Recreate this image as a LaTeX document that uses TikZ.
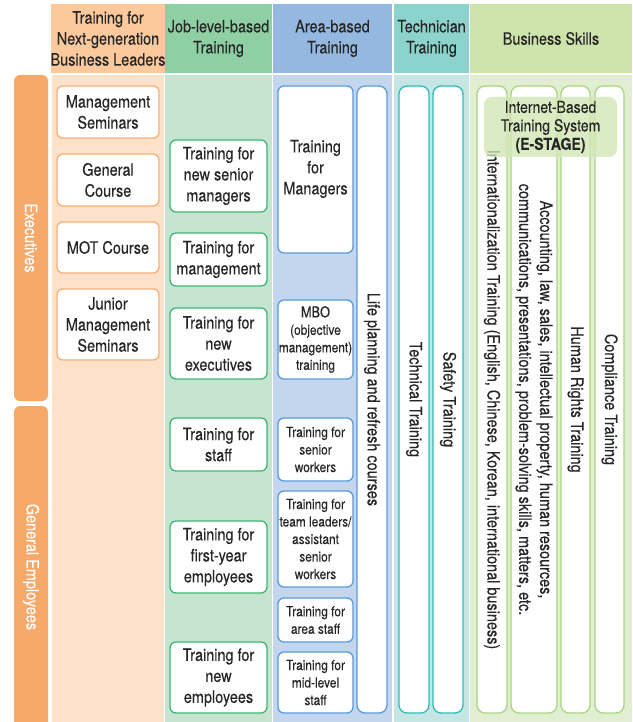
\documentclass[tikz,border=0pt]{standalone}
\usepackage{fontspec}
\setmainfont{TeX Gyre Heros}[FakeStretch=0.85, FakeBold=0.25]
% palette
\definecolor{txt}{HTML}{262626}
\definecolor{orBar}{HTML}{F7A96A}
\definecolor{orHead}{HTML}{FBC99C}
\definecolor{orBody}{HTML}{FDE2C9}
\definecolor{orLine}{HTML}{F6AF78}
\definecolor{gnHead}{HTML}{8FCFA4}
\definecolor{gnBody}{HTML}{C7E4D1}
\definecolor{gnLine}{HTML}{3DB772}
\definecolor{blHead}{HTML}{94B8DF}
\definecolor{blBody}{HTML}{C4D6EE}
\definecolor{blLine}{HTML}{5A9BD9}
\definecolor{tlHead}{HTML}{8CD3CE}
\definecolor{tlBody}{HTML}{C5E6E4}
\definecolor{tlLine}{HTML}{2BBDB5}
\definecolor{lgHead}{HTML}{CEE4AA}
\definecolor{lgBody}{HTML}{E1EED1}
\definecolor{lgLine}{HTML}{A8D680}
\definecolor{esFill}{HTML}{D3E7B6}
\begin{document}
\begin{tikzpicture}[x=1pt,y=-1pt,
  big/.style={font=\fontsize{17}{21}\selectfont},
  small/.style={font=\fontsize{14}{17.5}\selectfont},
  cell/.style={inner sep=0pt, outer sep=0pt, align=center, text=txt, big},
  hdrcell/.style={cell, minimum height=69},
  bodycell/.style={cell, minimum height=647},
  bar/.style={fill=orBar, rounded corners=6, inner sep=0pt, minimum width=34,
    text=white, big, rotate=-90},
  course/.style={fill=white, rounded corners=6, line width=1.3pt, align=center,
    text=txt, inner sep=0pt},
  obox/.style={course, draw=orLine, minimum width=102, big},
  gbox/.style={course, draw=gnLine, minimum width=97, big},
  bbox/.style={course, draw=blLine, minimum width=75, small},
  column/.style={course, rounded corners=8, rotate=-90, minimum width=627, big},
]
\useasboundingbox (0,0) rectangle (632,722);
\clip (0,0) rectangle (632,722);

% column bodies
\node[bodycell, fill=orBody, minimum width=112] (b1) at (108,398.5) {};
\node[bodycell, fill=gnBody, minimum width=107] (b2) at (218.5,398.5) {};
\node[bodycell, fill=blBody, minimum width=119] (b3) at (332.5,398.5) {};
\node[bodycell, fill=tlBody, minimum width=75] (b4) at (431.5,398.5) {};
\node[bodycell, fill=lgBody, minimum width=162] (b5) at (551,398.5) {};

% column headers
\node[hdrcell, fill=orHead, minimum width=112] (h1) at (108,38.5)
  {Training for\\Next-generation\\Business Leaders};
\node[hdrcell, fill=gnHead, minimum width=107] (h2) at (218.5,38.5)
  {Job-level-based\\Training};
\node[hdrcell, fill=blHead, minimum width=119] (h3) at (332.5,38.5)
  {Area-based\\Training};
\node[hdrcell, fill=tlHead, minimum width=75] (h4) at (431.5,38.5)
  {Technician\\Training};
\node[hdrcell, fill=lgHead, minimum width=162] (h5) at (551,38.5)
  {Business Skills};

% row bars
\node[bar, minimum height=34, minimum width=326] (exec) at (31,238) {Executives};
\node[bar, minimum height=34, minimum width=322] (gen) at (31,567) {General Employees};

% next-generation leaders
\node[obox, minimum height=52] (ms) at (108,112) {Management\\Seminars};
\node[obox, minimum height=52] (gc) at (108,180) {General\\Course};
\node[obox, minimum height=51] (mot) at (108,247.5) {MOT Course};
\node[obox, minimum height=71] (jms) at (108,324.5) {Junior\\Management\\Seminars};

% job-level-based
\node[gbox, minimum height=72] (nsm) at (218.5,176) {Training for\\new senior\\managers};
\node[gbox, minimum height=53] (mgt) at (218.5,259.5) {Training for\\management};
\node[gbox, minimum height=71] (nex) at (218.5,343.5) {Training for\\new\\executives};
\node[gbox, minimum height=53] (stf) at (218.5,444.5) {Training for\\staff};
\node[gbox, minimum height=72] (fye) at (218.5,557) {Training for\\first-year\\employees};
\node[gbox, minimum height=71] (nem) at (218.5,677.5) {Training for\\new\\employees};

% area-based
\node[bbox, minimum height=167] (mgr) at (315.5,169.5) {};
\node[cell] (mgrtext) at (315.5,169) {Training\\for\\Managers};
\node[bbox, minimum height=79] (mbo) at (315.5,339.5)
  {{\fontsize{15}{17}\selectfont MBO}\\(objective\\management)\\training};
\node[bbox, minimum height=63] (sw) at (315.5,449.5) {Training for\\senior\\workers};
\node[bbox, minimum height=96] (tl) at (315.5,539)
  {Training for\\team leaders/\\assistant\\senior\\workers};
\node[bbox, minimum height=44] (ars) at (315.5,620) {Training for\\area staff};
\node[bbox, minimum height=61] (mls) at (315.5,682.5) {Training for\\mid-level\\staff};
\node[column, draw=blLine, minimum height=30] (life) at (372,399.5)
  {Life planning and refresh courses};

% technician
\node[column, draw=tlLine, minimum height=30] (tech) at (414,399.5) {Technical Training};
\node[column, draw=tlLine, minimum height=30] (safe) at (448,399.5) {Safety Training};

% business skills
\node[column, draw=lgLine, minimum height=30] (intl) at (492,399.5)
  {Internationalization Training (English, Chinese, Korean, international business)};
\node[column, draw=lgLine, minimum height=46] (acct) at (534,399.5)
  {Accounting, law, sales, intellectual property, human resources,\\
   communications, presentations, problem-solving skills, matters, etc.};
\node[column, draw=lgLine, minimum height=29] (hr) at (575.5,399.5) {Human Rights Training};
\node[column, draw=lgLine, minimum height=29] (comp) at (609.5,399.5) {Compliance Training};

% e-learning system laid over the business skills columns
\node[fill=esFill, fill opacity=0.8, text opacity=1, rounded corners=8,
  inner sep=0pt, minimum width=133, minimum height=60, align=center, text=txt,
  font=\fontsize{16.5}{18.5}\selectfont] (estage) at (550.5,127)
  {Internet-Based\\Training System\\\textbf{(E-STAGE)}};
\end{tikzpicture}
\end{document}
